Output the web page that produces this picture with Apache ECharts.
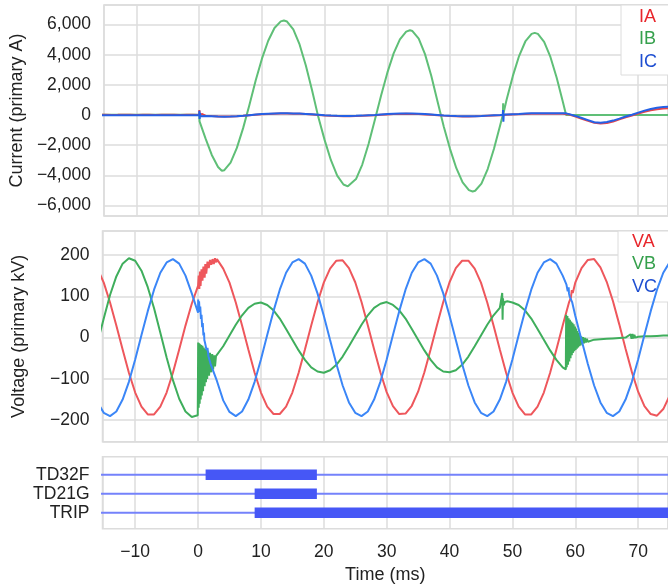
<!DOCTYPE html>
<html><head><meta charset="utf-8">
<script src="https://cdn.jsdelivr.net/npm/echarts@6/dist/echarts.min.js"></script>
<style>html,body{margin:0;padding:0;background:#fff}#c{width:668px;height:588px}</style>
</head><body><div id="c"></div><script>
// ---- data (time in ms) ----
const time = [-16,-15,-14,-13,-12,-11,-10,-9,-8,-7,
 -6,-5,-4,-3,-2,-1,0,1,2,3,
 4,5,6,7,8,9,10,11,12,13,
 14,15,16,17,18,19,20,21,22,23,
 24,25,26,27,28,29,30,31,32,33,
 34,35,36,37,38,39,40,41,42,43,
 44,45,46,47,48,49,50,51,52,53,
 54,55,56,57,58,59,60,61,62,63,
 64,65,66,67,68,69,70,71,72,73,
 74,75];

const IA = [10,12,8,10,14,10,6,10,12,8,
 10,12,10,8,10,12,0,-40,-70,-90,
 -100,-95,-80,-55,-20,15,45,70,85,95,
 95,90,80,60,35,5,-25,-50,-65,-75,
 -75,-70,-55,-35,-15,15,40,60,75,80,
 75,60,40,15,-10,-40,-60,-80,-90,-90,
 -85,-70,-50,-30,-10,15,40,55,70,80,
 85,90,90,85,80,30,-100,-250,-390,-520,
 -560,-530,-430,-290,-150,-30,100,220,320,390,
 440,460];
const IB = [20,18,22,20,16,20,24,20,18,20,
 22,20,18,20,22,20,20,-1550,-2650,-3450,
 -3660,-3160,-2180,-870,666,2284,3739,4930,5777,6213,
 6204,5681,4684,3286,1622,-155,-1666,-3000,-4017,-4607,
 -4704,-4252,-3288,-1925,-329,1296,2810,4088,5022,5535,
 5574,5064,4039,2600,897,-778,-2260,-3528,-4468,-4983,
 -5026,-4548,-3585,-2243,-662,1002,2578,3913,4879,5385,
 5383,4856,3854,2474,852,0,0,0,0,0,
 0,0,0,0,0,0,0,0,0,0,
 0,0];
const IC = [-15,-18,-12,-15,-20,-15,-10,-15,-18,-12,
 -15,-20,-15,-12,-15,-18,-15,-60,-80,-100,
 -110,-100,-80,-50,-10,30,60,85,100,110,
 110,105,95,75,50,20,-10,-35,-50,-60,
 -60,-55,-40,-20,0,30,60,85,100,105,
 100,85,60,30,0,-30,-55,-70,-80,-80,
 -75,-60,-40,-20,0,30,55,75,100,110,
 120,125,125,120,115,60,-60,-200,-340,-480,
 -505,-460,-370,-240,-100,20,160,290,400,480,
 540,560];

const VA = [167,133,85,29,-29,-85,-133,-167,-186,-186,
 -167,-133,-85,-29,29,82,125,170,184,190,
 167,133,85,29,-29,-85,-133,-167,-185,-185,
 -167,-133,-85,-29,29,85,133,167,186,187,
 168,134,86,30,-28,-84,-132,-166,-185,-184,
 -165,-131,-84,-28,30,86,134,168,186,186,
 167,133,85,29,-29,-85,-133,-167,-186,-186,
 -167,-133,-85,-29,29,85,133,168,188,190,
 170,135,88,32,-27,-83,-131,-166,-185,-189,
 -173,-141];
const VB = [-12,46,103,148,179,192,186,162,122,71,
 12,-48,-103,-148,-179,-192,-186,-79,-66,-46,
 -21,5,31,54,72,82,85,79,66,46,
 21,-5,-31,-54,-72,-82,-85,-79,-66,-46,
 -21,5,31,54,72,82,86,79,66,46,
 21,-5,-31,-54,-72,-82,-84,-79,-66,-46,
 -21,5,31,54,72,82,85,79,66,46,
 21,-5,-31,-54,-72,-10,-5,-8,-6,-5,
 -4,-3,-2,-1,0,1,2,3,3,4,
 5,5];
const VC = [-157,-182,-190,-179,-150,-107,-53,6,64,116,
 157,182,190,179,150,107,60,-6,-64,-105,
 -152,-180,-190,-179,-150,-107,-53,6,64,116,
 157,182,190,179,150,107,53,-6,-64,-116,
 -157,-182,-190,-179,-150,-107,-53,6,64,116,
 157,182,190,179,150,107,53,-6,-64,-116,
 -157,-182,-190,-179,-150,-107,-53,6,64,116,
 157,182,190,179,150,107,53,-6,-64,-116,
 -157,-182,-190,-179,-150,-107,-53,6,64,116,
 157,182];

// extra finely-read points (fault transient, peaks, breaker opening)
const IA_extra = [[0.02,330],[0.1,40],[0.2,140],[0.35,-20],[0.5,60]];
const IB_extra = [[0.05,-420],[3.6,-3700],[13.5,6270],[23.7,-4730],[33.6,5620],[43.6,-5070],
 [48.42,10],[48.46,780],[48.5,90],[53.5,5450],[58.5,0]];
const IC_extra = [[0.02,280],[0.06,-260],[0.12,120],[0.2,-80],[0.35,20],[0.5,-60],
 [48.4,20],[48.45,330],[48.5,-450],[48.56,30],[58.5,110]];
const VA_extra = [[0.05,122],[0.1,150],[0.2,118],[0.3,160],[0.4,125],[0.55,165],[0.7,138],[0.85,172],
 [1.05,145],[1.15,178],[1.3,155],[1.5,184],[1.7,168],[1.9,188],[2.1,176],[2.3,190],[2.5,178],
 [2.7,192],[2.9,182],[3.1,191],[3.3,190],[59.3,96],[59.45,115],[59.6,108]];
const VB_extra = [[-0.05,-188],[0.02,-12],[0.1,-170],[0.18,-14],[0.26,-160],[0.34,-16],[0.42,-150],
 [0.5,-18],[0.6,-140],[0.7,-20],[0.8,-130],[0.9,-24],[1.05,-118],[1.15,-27],[1.25,-108],[1.35,-30],
 [1.45,-100],[1.6,-34],[1.75,-92],[1.9,-37],[2.1,-84],[2.25,-40],[2.4,-77],[2.55,-43],[2.7,-70],[2.85,-45],
 [48.3,74],[48.38,108],[48.44,43],[48.5,95],[48.6,78],[48.8,86],[49.2,88],[49.4,84],
 [58.5,-77],[58.55,55],[58.65,-72],[58.75,52],[58.85,-66],[58.95,47],[59.05,-58],[59.15,43],[59.25,-50],
 [59.35,39],[59.45,-43],[59.55,36],[59.65,-37],[59.75,32],[59.85,-33],[59.95,27],[60.05,-30],[60.15,22],
 [60.25,-27],[60.35,16],[60.45,-24],[60.55,11],[60.65,-21],[60.75,6],[60.85,-19],[60.95,3],[61.1,-16],
 [61.25,1],[61.4,-14],[61.55,-1],[61.7,-12],[61.85,-3],[62.0,-10],
 [68.8,8],[68.95,-3],[69.1,9],[69.25,-2],[69.4,7],[69.55,0]];
const VC_extra = [[0.02,92],[0.08,70],[0.16,88],[0.25,62],[0.35,75],[0.45,45],[0.55,55],[0.65,25],
 [0.75,35],[0.85,5],[0.95,12],[1.1,-12],[1.2,-8],[1.35,-30],[1.5,-25],[1.65,-45],[1.8,-42],[2.2,-72],
 [58.6,128],[58.8,112],[58.95,122],[59.1,100],[59.3,104],[59.5,86]];

const digitalNames = ['TD32F','TD21G','TRIP'];
const digitalLevels = [3,2,1];
const digitalOn = [[[1.2,18.9]],[[9.0,18.9]],[[9.0,75]]];

const currentNames = ['IA','IB','IC'];
const voltageNames = ['VA','VB','VC'];

// ---- chart ----
const FONT = '"Liberation Sans", Arial, sans-serif';
const TICK = 17.5;
const xMin = -15.2, xMax = 74.75;
function merge(vals, extra){
  const out = time.map((t,i)=>[t, vals[i]]).concat(extra);
  out.sort((a,b)=>a[0]-b[0]);
  return out;
}
const minus = v => (v<0?'\u2212':'') + Math.abs(v).toLocaleString('en-US');
const gridColor = '#dcdcdc';

function xAx(idx, showLabel){
  return {type:'value', gridIndex:idx, min:xMin, max:xMax, minInterval:10, maxInterval:10, splitNumber:9,
    axisLine:{show:false}, axisTick:{show:false},
    splitLine:{show:true, lineStyle:{color:gridColor, width:1.5}},
    axisLabel:{show:showLabel, showMinLabel:false, showMaxLabel:false, margin:14,
      fontSize:TICK, color:'#222', fontFamily:FONT, formatter:minus},
    name: showLabel ? 'Time (ms)' : '', nameLocation:'middle', nameGap:37,
    nameTextStyle:{fontSize:18, color:'#222', fontFamily:FONT}};
}
function line(name, data, color, xi, yi, z){
  return {name, type:'line', xAxisIndex:xi, yAxisIndex:yi, data, showSymbol:false, symbol:'none',
    lineStyle:{color, width:2}, itemStyle:{color}, z:z||2, animation:false};
}

const curColors = ['#e3454d','#5fbf77','#2461e6'];
const volColors = ['#ee575c','#3fae5c','#3b86f7'];
const legendColors = ['#e8262b','#35a04c','#1f4fd1'];

const series = [
  line('IB', merge(IB, IB_extra), curColors[1], 0, 0, 2),
  line('IA', merge(IA, IA_extra), curColors[0], 0, 0, 3),
  line('IC', merge(IC, IC_extra), curColors[2], 0, 0, 4),
  line('VA', merge(VA, VA_extra), volColors[0], 1, 1, 2),
  line('VB', merge(VB, VB_extra), volColors[1], 1, 1, 3),
  line('VC', merge(VC, VC_extra), volColors[2], 1, 1, 4)
];
digitalNames.forEach((n,i)=>{
  const lv = digitalLevels[i];
  series.push({name:n+'_base', type:'line', xAxisIndex:2, yAxisIndex:2, showSymbol:false, symbol:'none',
    data:[[xMin-1,lv],[xMax+1,lv]], lineStyle:{color:'#7482fb', width:2}, animation:false, z:2});
  digitalOn[i].forEach(seg=>{
    series.push({name:n, type:'line', xAxisIndex:2, yAxisIndex:2, showSymbol:false, symbol:'none',
      data:[[seg[0],lv],[seg[1],lv]], lineStyle:{color:'#4657f6', width:10.5, cap:'butt'}, animation:false, z:3});
  });
});

function legend(names, top, left, pad){
  return {orient:'vertical', left, top, padding:pad, itemGap:4.5, itemWidth:0, itemHeight:14,
    backgroundColor:'#fff', borderColor:'#dcdcdc', borderWidth:1, selectedMode:false,
    textStyle:{fontSize:18, fontFamily:FONT},
    data: names.map((n,i)=>({name:n, icon:'none', textStyle:{color:legendColors[i]}}))};
}

const chart = echarts.init(document.getElementById('c'), null, {renderer:'canvas'});
chart.setOption({
  animation:false,
  backgroundColor:'#fff',
  textStyle:{fontFamily:FONT},
  grid:[
    {left:102.5, right:0, top:5, height:211, show:true, borderColor:gridColor, borderWidth:1.5},
    {left:102.5, right:0, top:231, height:210.7, show:true, borderColor:gridColor, borderWidth:1.5},
    {left:102.5, right:0, top:456.7, height:72, show:true, borderColor:gridColor, borderWidth:1.5}
  ],
  xAxis:[xAx(0,false), xAx(1,false), xAx(2,true)],
  yAxis:[
    {type:'value', gridIndex:0, min:-6700, max:7300, minInterval:2000, maxInterval:2000, splitNumber:7,
     axisLine:{show:false}, axisTick:{show:false},
     splitLine:{lineStyle:{color:gridColor, width:1.5}},
     axisLabel:{showMinLabel:false, showMaxLabel:false, margin:13, fontSize:TICK, color:'#222', fontFamily:FONT, formatter:minus},
     name:'Current (primary A)', nameLocation:'middle', nameGap:74,
     nameTextStyle:{fontSize:18, color:'#222', fontFamily:FONT}},
    {type:'value', gridIndex:1, min:-252, max:258, minInterval:100, maxInterval:100, splitNumber:5,
     axisLine:{show:false}, axisTick:{show:false},
     splitLine:{lineStyle:{color:gridColor, width:1.5}},
     axisLabel:{showMinLabel:false, showMaxLabel:false, margin:13, fontSize:TICK, color:'#222', fontFamily:FONT, formatter:minus},
     name:'Voltage (primary kV)', nameLocation:'middle', nameGap:74,
     nameTextStyle:{fontSize:18, color:'#222', fontFamily:FONT}},
    {type:'value', gridIndex:2, min:0.16, max:3.95, minInterval:1, maxInterval:1, splitNumber:3,
     axisLine:{show:false}, axisTick:{show:false}, splitLine:{show:false},
     axisLabel:{showMinLabel:false, showMaxLabel:false, margin:13, fontSize:TICK, color:'#222', fontFamily:FONT,
       formatter:v=>{const k=digitalLevels.indexOf(v); return k>=0?digitalNames[k]:'';}}}
  ],
  legend:[legend(currentNames, 5, 621, [3,30,4,13]), legend(voltageNames, 231, 618, [2,30,6,9])],
  series
});
</script></body></html>
